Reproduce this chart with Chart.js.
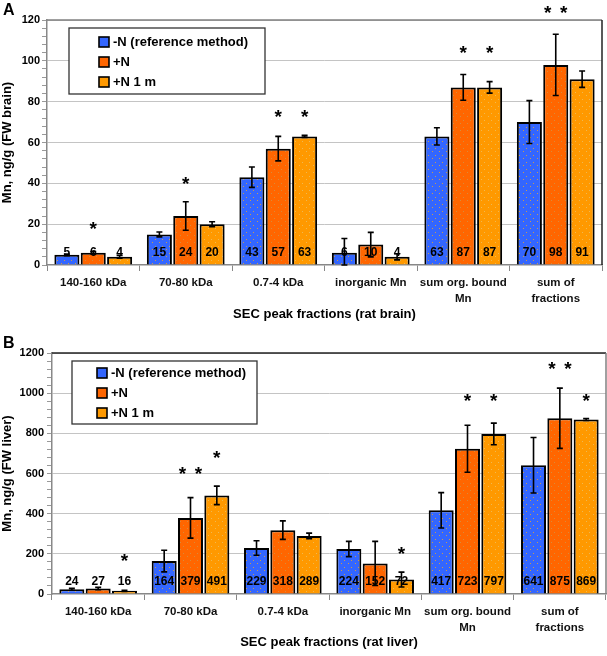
<!DOCTYPE html>
<html>
<head>
<meta charset="utf-8">
<script src="https://cdn.jsdelivr.net/npm/chart.js@4.4.1/dist/chart.umd.min.js"></script>
<style>
  html, body { margin: 0; padding: 0; background: #fff; }
  #wrap { position: relative; width: 607px; height: 656px; }
  canvas { position: absolute; left: 0; }
  #brainChart { top: 0; }
  #liverChart { top: 328px; }
</style>
</head>
<body>
<div id="wrap">
  <canvas id="brainChart" width="607" height="328"></canvas>
  <canvas id="liverChart" width="607" height="328"></canvas>
</div>
<script>
// categorias y series
var categorias = ['140-160 kDa', '70-80 kDa', '0.7-4 kDa', 'inorganic Mn', ['sum org. bound', 'Mn'], ['sum of', 'fractions']];
var series = ['-N (reference method)', '+N', '+N 1 m'];

// A: cerebro (ng/g)
var brainMenosN = [5, 15, 43, 6, 63, 70];
var brainMasN = [6, 24, 57, 10, 87, 98];
var brainMasN1m = [4, 20, 63, 4, 87, 91];
var brainErrMenosN = [0.4, 1.2, 5, 7, 4.2, 10.5];
var brainErrMasN = [0.6, 7, 6, 6, 6.3, 15];
var brainErrMasN1m = [0.7, 1.2, 0.5, 1.5, 2.8, 4];
var brainEstrellasMasN = [1, 1, 1, 0, 1, 2];
var brainEstrellasMasN1m = [0, 0, 1, 0, 1, 0];
var brainNivelMasN = [16.7, 38.7, 71.6, null, 103, 122.5];
var brainNivelMasN1m = [null, null, 71.6, null, 103, null];
var brainTicks = [0, 20, 40, 60, 80, 100, 120];

// B: higado (ng/g)
var liverMenosN = [24, 164, 229, 224, 417, 641];
var liverMasN = [27, 379, 318, 152, 723, 875];
var liverMasN1m = [16, 491, 289, 72, 797, 869];
var liverErrMenosN = [5, 54, 36, 38, 88, 138];
var liverErrMasN = [6, 101, 46, 110, 117, 150];
var liverErrMasN1m = [3, 46, 14, 37, 54, 5];
var liverEstrellasMasN = [0, 2, 0, 0, 1, 2];
var liverEstrellasMasN1m = [1, 1, 0, 1, 1, 1];
var liverNivelMasN = [null, 590, null, null, 950, 1110];
var liverNivelMasN1m = [155, 670, null, 190, 950, 950];
var liverTicks = [0, 200, 400, 600, 800, 1000, 1200];

var colores = ['#3366FF', '#FF6600', '#FF9900'];
var puntos = ['#C89A50', '#D98A3A', '#F0B850'];
var ninguno = [0, 0, 0, 0, 0, 0];
var sinNivel = [null, null, null, null, null, null];

function crearPatron(base, punto) {
    var c = document.createElement('canvas');
    c.width = 7; c.height = 7;
    var g = c.getContext('2d');
    g.fillStyle = base;
    g.fillRect(0, 0, 7, 7);
    g.fillStyle = punto;
    g.fillRect(1, 1, 1, 1);
    g.fillRect(5, 4, 1, 1);
    return g.createPattern(c, 'repeat');
}

var pluginMarcas = {
    id: 'marcas',
    afterDatasetsDraw: function (chart, args, opts) {
        var ctx = chart.ctx;
        var y = chart.scales.y;
        var cero = y.getPixelForValue(0);
        ctx.save();
        // etiquetas de valor
        ctx.font = 'bold 12px "Liberation Sans", Arial, sans-serif';
        ctx.fillStyle = '#000';
        ctx.textAlign = 'center';
        ctx.textBaseline = 'middle';
        chart.data.datasets.forEach(function (ds, i) {
            chart.getDatasetMeta(i).data.forEach(function (bar, j) {
                ctx.fillText(String(ds.data[j]), bar.x, cero - 12.5);
            });
        });
        // barras de error
        ctx.strokeStyle = '#000';
        ctx.lineWidth = 1.6;
        chart.data.datasets.forEach(function (ds, i) {
            chart.getDatasetMeta(i).data.forEach(function (bar, j) {
                var v = ds.data[j], e = ds.errores[j];
                var y1 = y.getPixelForValue(v + e), y2 = y.getPixelForValue(Math.max(0, v - e));
                ctx.beginPath();
                ctx.moveTo(bar.x, y1); ctx.lineTo(bar.x, y2);
                ctx.moveTo(bar.x - 3, y1); ctx.lineTo(bar.x + 3, y1);
                ctx.moveTo(bar.x - 3, y2); ctx.lineTo(bar.x + 3, y2);
                ctx.stroke();
            });
        });
        // asteriscos
        ctx.font = 'bold 19px "Liberation Sans", Arial, sans-serif';
        var m = ctx.measureText('*');
        var centro = (m.actualBoundingBoxAscent - m.actualBoundingBoxDescent) / 2;
        ctx.textBaseline = 'alphabetic';
        chart.data.datasets.forEach(function (ds, i) {
            chart.getDatasetMeta(i).data.forEach(function (bar, j) {
                var n = ds.estrellas[j];
                if (!n) return;
                var py = y.getPixelForValue(ds.nivel[j]) + centro;
                if (n === 1) ctx.fillText('*', bar.x, py);
                else { ctx.fillText('*', bar.x - 8, py); ctx.fillText('*', bar.x + 8, py); }
            });
        });
        ctx.restore();
    },
    afterDraw: function (chart, args, opts) {
        var ctx = chart.ctx;
        var a = chart.chartArea;
        ctx.save();
        // marco superior y derecho
        ctx.lineWidth = 1.5;
        ctx.strokeStyle = opts.marcoArriba;
        ctx.beginPath(); ctx.moveTo(a.left, a.top); ctx.lineTo(a.right, a.top); ctx.stroke();
        ctx.strokeStyle = opts.marcoDerecha;
        ctx.beginPath(); ctx.moveTo(a.right, a.top); ctx.lineTo(a.right, a.bottom); ctx.stroke();
        // letra del panel
        ctx.fillStyle = '#000';
        ctx.font = 'bold 16px "Liberation Sans", Arial, sans-serif';
        ctx.textBaseline = 'alphabetic';
        ctx.textAlign = 'left';
        ctx.fillText(opts.letra, 3, opts.letraY);
        // leyenda
        var L = opts.leyenda;
        ctx.fillStyle = '#fff';
        ctx.fillRect(L.x, L.y, L.w, L.h);
        ctx.strokeStyle = '#333';
        ctx.lineWidth = 1.3;
        ctx.strokeRect(L.x, L.y, L.w, L.h);
        ctx.font = 'bold 13px "Liberation Sans", Arial, sans-serif';
        ctx.textBaseline = 'middle';
        chart.data.datasets.forEach(function (ds, i) {
            var fy = L.y + L.fila0 + i * L.paso;
            ctx.fillStyle = ds.colorLeyenda;
            ctx.fillRect(L.cuadroX, fy - 5, 10, 10);
            ctx.lineWidth = 1.6;
            ctx.strokeStyle = '#000';
            ctx.strokeRect(L.cuadroX, fy - 5, 10, 10);
            ctx.fillStyle = '#000';
            ctx.fillText(ds.label, L.cuadroX + 14, fy + 0.5);
        });
        ctx.restore();
    }
};

function crearPanel(id, datos, errores, estrellas, niveles, ticks, tituloY, tituloX, extra) {
    var ctx = document.getElementById(id).getContext('2d');
    var paso = ticks[1] / 5;
    var datasets = datos.map(function (d, i) {
        return {
            label: series[i],
            data: d,
            errores: errores[i],
            estrellas: estrellas[i],
            nivel: niveles[i],
            colorLeyenda: colores[i],
            backgroundColor: crearPatron(colores[i], puntos[i]),
            borderColor: '#000',
            borderWidth: 2,
            borderSkipped: 'start',
            barPercentage: 0.95,
            categoryPercentage: 0.855
        };
    });
    return new Chart(ctx, {
        type: 'bar',
        data: { labels: categorias, datasets: datasets },
        options: {
            responsive: false,
            animation: false,
            layout: { padding: { top: extra.arriba, right: extra.derecha, left: 0, bottom: 0 } },
            scales: {
                x: {
                    grid: { offset: true, drawOnChartArea: false, tickLength: 6, color: '#888', lineWidth: 1 },
                    border: { color: '#888', width: 1.5 },
                    ticks: {
                        color: '#111',
                        padding: 4,
                        maxRotation: 0,
                        autoSkip: false,
                        font: { family: '"Liberation Sans", Arial, sans-serif', size: 11.5, weight: 'bold', lineHeight: '16px' }
                    },
                    title: {
                        display: true,
                        text: tituloX,
                        color: '#000',
                        padding: { top: 0, bottom: 6 },
                        font: { family: '"Liberation Sans", Arial, sans-serif', size: 13, weight: 'bold' }
                    },
                    afterFit: function (s) { s.height = extra.altoX; }
                },
                y: {
                    min: 0,
                    max: ticks[ticks.length - 1],
                    afterBuildTicks: function (s) {
                        var t = [];
                        for (var v = 0; v <= ticks[ticks.length - 1] + 1e-9; v += paso) t.push({ value: Math.round(v * 100) / 100 });
                        s.ticks = t;
                    },
                    grid: {
                        color: function (c) { return ticks.indexOf(c.tick.value) >= 0 && c.tick.value !== 0 ? '#c4c4c4' : 'rgba(0,0,0,0)'; },
                        tickColor: '#999',
                        tickLength: 5,
                        lineWidth: 1
                    },
                    border: { color: '#888', width: 1.5 },
                    ticks: {
                        color: '#000',
                        padding: extra.padY,
                        autoSkip: false,
                        callback: function (v) { return ticks.indexOf(v) >= 0 ? v : ''; },
                        font: { family: '"Liberation Sans", Arial, sans-serif', size: 11, weight: 'bold' }
                    },
                    title: {
                        display: true,
                        text: tituloY,
                        color: '#000',
                        padding: { top: 0, bottom: 0 },
                        font: { family: '"Liberation Sans", Arial, sans-serif', size: 13, weight: 'bold' }
                    },
                    afterFit: function (s) { s.width = extra.anchoY; }
                }
            },
            plugins: {
                legend: { display: false },
                tooltip: { enabled: false },
                marcas: {
                    marcoArriba: extra.marcoArriba,
                    marcoDerecha: extra.marcoDerecha,
                    letra: extra.letra,
                    letraY: extra.letraY,
                    leyenda: extra.leyenda
                }
            }
        },
        plugins: [pluginMarcas]
    });
}

crearPanel('brainChart',
    [brainMenosN, brainMasN, brainMasN1m],
    [brainErrMenosN, brainErrMasN, brainErrMasN1m],
    [ninguno, brainEstrellasMasN, brainEstrellasMasN1m],
    [sinNivel, brainNivelMasN, brainNivelMasN1m],
    brainTicks, 'Mn, ng/g (FW brain)', 'SEC peak fractions (rat brain)',
    { arriba: 20, derecha: 5, altoX: 63, anchoY: 47, padY: 2, marcoArriba: '#808080', marcoDerecha: '#222',
      letra: 'A', letraY: 15,
      leyenda: { x: 69, y: 28, w: 196, h: 66, cuadroX: 99, fila0: 14, paso: 20 } });

crearPanel('liverChart',
    [liverMenosN, liverMasN, liverMasN1m],
    [liverErrMenosN, liverErrMasN, liverErrMasN1m],
    [ninguno, liverEstrellasMasN, liverEstrellasMasN1m],
    [sinNivel, liverNivelMasN, liverNivelMasN1m],
    liverTicks, 'Mn, ng/g (FW liver)', 'SEC peak fractions (rat liver)',
    { arriba: 25, derecha: 1, altoX: 62, anchoY: 52, padY: 3, marcoArriba: '#222', marcoDerecha: '#808080',
      letra: 'B', letraY: 20,
      leyenda: { x: 72, y: 33, w: 185, h: 63, cuadroX: 97, fila0: 12, paso: 20 } });
</script>
</body>
</html>
